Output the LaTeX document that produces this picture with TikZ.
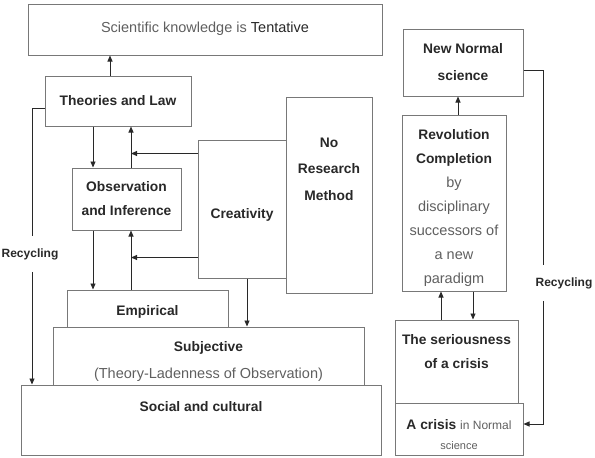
\documentclass[tikz,border=0pt]{standalone}
\usepackage{fontspec}
\setmainfont{Liberation Sans}
\usetikzlibrary{arrows.meta,positioning}
\definecolor{boxGray}{RGB}{120,120,120}
\definecolor{txtGray}{RGB}{95,95,95}
\definecolor{inkDark}{RGB}{40,40,40}
\newcommand{\lite}[1]{{\mdseries\color{txtGray}\fontsize{14.5}{\baselineskip}\selectfont#1}}

\begin{document}
\begin{tikzpicture}[x=1pt,y=-1pt,
          bx/.style={draw=boxGray,line width=1pt,inner sep=0pt,align=center,
                     text=inkDark,font=\bfseries\fontsize{13.8}{24}\selectfont},
          inbx/.style={bx,draw=none},
          arr/.style={draw=inkDark,line width=0.9pt,-{Triangle[length=6pt,width=5pt]}},
          ln/.style={draw=inkDark,line width=0.9pt},
          rec/.style={text=inkDark,inner xsep=1pt,inner ysep=12pt,
                      font=\bfseries\fontsize{12}{14}\selectfont}]
          \useasboundingbox (0,0) rectangle (595,458);
          % left side
          \node[bx,minimum width=354,minimum height=51,
                label={[inbx,anchor=north,yshift=-18]north:\lite{Scientific knowledge is \textcolor{inkDark}{Tentative}}}](sci) at (205,29.5){};
          \node[bx,minimum width=146,minimum height=50](theo) at (118,101){Theories and Law};
          \node[bx,minimum width=109,minimum height=62](obs) at (126.5,199){Observation\\and Inference};
          \node[bx,minimum width=88,minimum height=138,
                label={[inbx,anchor=north,yshift=-68]north:Creativity}](crea) at (242,209){};
          \node[bx,minimum width=86,minimum height=196,
                label={[inbx,anchor=north,yshift=-41,font=\bfseries\fontsize{13.8}{26.5}\selectfont]north:No\\Research\\Method}](nrm) at (329,195){};
          \node[bx,minimum width=161,minimum height=37,
                label={[inbx,anchor=north,yshift=-15]north:Empirical}](emp) at (147.5,308.5){};
          \node[bx,minimum width=311,minimum height=58,
                label={[inbx,anchor=north,yshift=-14,font=\bfseries\fontsize{13.8}{27}\selectfont]north:Subjective\\\lite{(Theory-Ladenness of Observation)}}](subj) at (208.5,356){};
          \node[bx,minimum width=360,minimum height=70,
                label={[inbx,anchor=north,yshift=-16]north:Social and cultural}](soc) at (201,420){};
          % right side
          \node[bx,minimum width=120,minimum height=67,font=\bfseries\fontsize{13.8}{27}\selectfont](nn) at (463,62.5)
            {New Normal\\science};
          \node[bx,minimum width=104,minimum height=176,
                label={[inbx,anchor=north,yshift=-14]north:Revolution\\Completion\\\lite{by}\\\lite{disciplinary}\\\lite{successors of}\\\lite{a new}\\\lite{paradigm}}](rev) at (454,203){};
          \node[bx,minimum width=123,minimum height=83,
                label={[inbx,anchor=north,yshift=-14]north:The seriousness\\of a crisis}](ser) at (456.5,361.5){};
          \node[bx,minimum width=128,minimum height=52,
                label={[inbx,anchor=north,yshift=-16,font=\bfseries\fontsize{13.8}{20}\selectfont]north:A crisis {\mdseries\color{txtGray}\fontsize{12}{20}\selectfont in Normal}\\
                  {\mdseries\color{txtGray}\fontsize{11}{20}\selectfont science}}](cri) at (459,429){};
          \node[rec](lrec) at (30,254){Recycling};
          \node[rec](rrec) at (564,283){Recycling};
          \coordinate (dn) at (93,0);
          \coordinate (up) at (131,0);
          \coordinate (lx) at (32,0);
          \coordinate (rx) at (543,0);
          % connectors
          \draw[arr] ([xshift=-8]theo.north) -- ([xshift=-8]theo.north |- sci.south);
          \draw[arr] (theo.south -| dn) -- (obs.north -| dn);
          \draw[arr] (obs.north -| up) -- (theo.south -| up);
          \draw[arr] (obs.south -| dn) -- (emp.north -| dn);
          \draw[arr] (emp.north -| up) -- (obs.south -| up);
          \draw[arr] ([yshift=-14]crea.north west) -- ([yshift=-14]crea.north west -| up);
          \draw[arr] ([yshift=21]crea.south west) -- ([yshift=21]crea.south west -| up);
          \draw[arr] ([xshift=5]crea.south) -- ([xshift=5]crea.south |- subj.north);
          \draw[ln] ([yshift=-7]theo.west) -| (lrec.north -| lx);
          \draw[arr] (lrec.south -| lx) -- (soc.north -| lx);
          \draw[arr] ([xshift=4]rev.north) -- ([xshift=4]rev.north |- nn.south);
          \draw[arr] ([xshift=-15.5]ser.north) -- ([xshift=-15.5]ser.north |- rev.south);
          \draw[arr] ([xshift=19]rev.south) -- ([xshift=19]rev.south |- ser.north);
          \draw[ln] ([yshift=-7.5]nn.east) -| (rrec.north -| rx);
          \draw[arr] (rrec.south -| rx) |- ([yshift=5]cri.east);
\end{tikzpicture}
\end{document}
